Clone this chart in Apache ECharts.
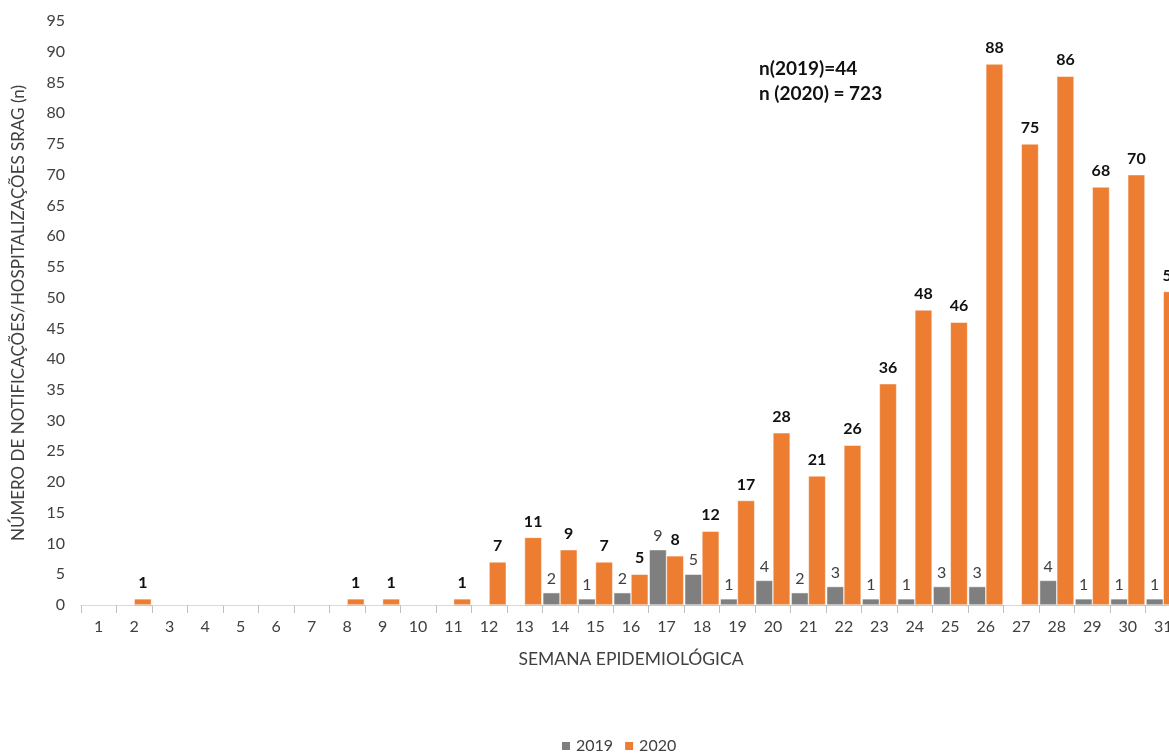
<!DOCTYPE html>
<html>
<head>
<meta charset="utf-8">
<script src="https://cdn.jsdelivr.net/npm/echarts@6/dist/echarts.min.js"></script>
<style>
  html, body { margin: 0; padding: 0; background: #fff; }
  #chart { width: 1169px; height: 753px; }
</style>
</head>
<body>
<div id="chart"></div>
<script>
// semanas epidemiológicas
var weeks = [];
for (var w = 1; w <= 31; w++) { weeks.push(String(w)); }

var srag2019 = [0, 0, 0, 0, 0, 0, 0, 0, 0, 0, 0, 0, 0, 2, 1, 2, 9, 5, 1, 4, 2, 3, 1, 1, 3, 3, 0, 4, 1, 1, 1];
var srag2020 = [0, 1, 0, 0, 0, 0, 0, 1, 1, 0, 1, 7, 11, 9, 7, 5, 8, 12, 17, 28, 21, 26, 36, 48, 46, 88, 75, 86, 68, 70, 51];

var totals = ['n(2019)=44', 'n (2020) = 723'];

var font = 'Lato, "Open Sans", sans-serif';

var chart = echarts.init(document.getElementById('chart'), null, { renderer: 'canvas' });

var hideZero = function (p) {
    return p.value === 0 ? '' : p.value;
};

var option = {
    animation: false,
    textStyle: { fontFamily: font },
    // o gráfico original está cortado à direita
    grid: { left: 81, width: 1100, top: 21, bottom: 148, outerBoundsMode: 'none', containLabel: false },
    legend: {
        top: 733,
        left: 555,
        itemWidth: 10,
        itemHeight: 10,
        itemGap: 10,
        icon: 'rect',
        textStyle: { fontSize: 16, color: '#404040', fontFamily: font },
        data: ['2019', '2020']
    },
    xAxis: {
        type: 'category',
        data: weeks,
        name: 'SEMANA EPIDEMIOLÓGICA',
        nameLocation: 'middle',
        nameGap: 45,
        nameTextStyle: { fontSize: 17.5, color: '#404040', fontFamily: font },
        axisLine: { lineStyle: { color: '#bfbfbf', width: 1 } },
        axisTick: { show: true, length: 8, lineStyle: { color: '#bfbfbf' } },
        axisLabel: { fontSize: 16, color: '#404040', margin: 14 }
    },
    yAxis: {
        type: 'value',
        min: 0,
        max: 95,
        interval: 5,
        name: 'NÚMERO DE NOTIFICAÇÕES/HOSPITALIZAÇÕES SRAG (n)',
        nameLocation: 'middle',
        nameGap: 54,
        nameRotate: 90,
        nameTextStyle: { fontSize: 17, color: '#404040', fontFamily: font },
        axisLine: { show: false },
        axisTick: { show: false },
        splitLine: { show: false },
        axisLabel: { fontSize: 16, color: '#404040', margin: 16 }
    },
    series: [
        {
            name: '2019',
            type: 'bar',
            data: srag2019,
            barGap: '0%',
            barCategoryGap: '3%',
            itemStyle: { color: '#7f7f7f', borderColor: '#ffffff', borderWidth: 0.5 },
            label: {
                show: true,
                position: 'top',
                distance: 6,
                fontSize: 16,
                color: '#404040',
                formatter: hideZero
            }
        },
        {
            name: '2020',
            type: 'bar',
            data: srag2020,
            barGap: '0%',
            barCategoryGap: '3%',
            itemStyle: { color: '#ed7d31', borderColor: '#ffffff', borderWidth: 0.5 },
            label: {
                show: true,
                position: 'top',
                distance: 8,
                fontSize: 16,
                fontWeight: 'bold',
                color: '#111111',
                formatter: hideZero
            }
        }
    ],
    graphic: [
        {
            type: 'text',
            left: 759,
            top: 56,
            style: {
                text: totals.join('\n'),
                font: 'bold 19px ' + font,
                fill: '#111111',
                lineHeight: 25
            }
        }
    ]
};

chart.setOption(option);
</script>
</body>
</html>
